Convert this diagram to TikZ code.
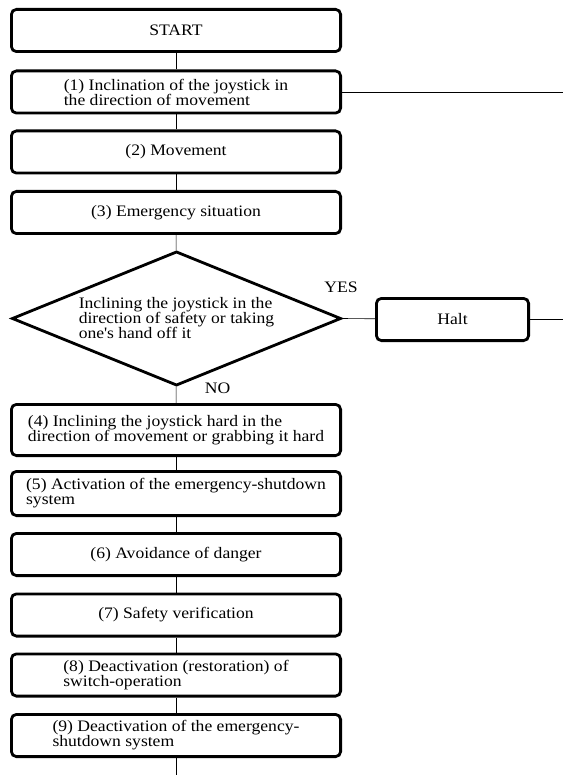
\documentclass[tikz,border=0pt]{standalone}
\usepackage{fontspec}
\setmainfont{Liberation Serif}[FakeStretch=1.1]
\usetikzlibrary{positioning, shapes.geometric}

\begin{document}
\begin{tikzpicture}[x=1pt, y=-1pt,
    stepbox/.style={rectangle, draw, line width=2.8pt, rounded corners=5pt, minimum width=329.2pt, minimum height=42.2pt, inner sep=0pt, align=left, font=\fontsize{16}{15}\selectfont},
    decision/.style={diamond, aspect=2.4, draw, line width=2.8pt, minimum width=329.2pt, minimum height=134.2pt, inner sep=0pt, align=left, font=\fontsize{16}{15}\selectfont},
    answer/.style={inner sep=0pt, font=\fontsize{16}{15}\selectfont},
    link/.style={line width=0.6pt}]
    \useasboundingbox (0,0) rectangle (563,775);

    \node[stepbox] (start) at (176, 30.5) {START};
    \node[stepbox] (s1) at (176, 92) {(1) Inclination of the joystick in\\the direction of movement};
    \node[stepbox] (s2) at (176, 152) {(2) Movement};
    \node[stepbox] (s3) at (176, 212.5) {(3) Emergency situation};
    \node[decision] (dec) at (176.5, 318.5) {Inclining the joystick in the\\direction of safety or taking\\one\textquotesingle s hand off it};
    \node[stepbox, minimum width=152.2pt] (halt) at (452.5, 319.5) {Halt};
    \node[stepbox, minimum height=51.2pt] (s4) at (176, 430) {(4) Inclining the joystick hard in the\\direction of movement or grabbing it hard};
    \node[stepbox, minimum height=44.2pt] (s5) at (176, 493.5) {(5) Activation of the emergency-shutdown\\system};
    \node[stepbox] (s6) at (176, 554.5) {(6) Avoidance of danger};
    \node[stepbox] (s7) at (176, 615) {(7) Safety verification};
    \node[stepbox] (s8) at (176, 675) {(8) Deactivation (restoration) of\\switch-operation};
    \node[stepbox] (s9) at (176, 735.5) {(9) Deactivation of the emergency-\\shutdown system};

    \node[answer] (yes) at (341, 287.5) {YES};
    \node[answer] (no) at (217.5, 388) {NO};

    \coordinate (out1) at (563, 92);
    \coordinate (out2) at (563, 319.5);
    \coordinate (end) at (176, 775);

    \draw[link] (start) -- (s1);
    \draw[link] (s1) -- (s2);
    \draw[link] (s2) -- (s3);
    \draw[link] (s3) -- (dec);
    \draw[link] (dec.east) -- (halt);
    \draw[link] (dec) -- (s4);
    \draw[link] (s4) -- (s5);
    \draw[link] (s5) -- (s6);
    \draw[link] (s6) -- (s7);
    \draw[link] (s7) -- (s8);
    \draw[link] (s8) -- (s9);
    \draw[link] (s9) -- (end);
    \draw[link] (s1) -- (out1);
    \draw[link] (halt) -- (out2);
\end{tikzpicture}
\end{document}
